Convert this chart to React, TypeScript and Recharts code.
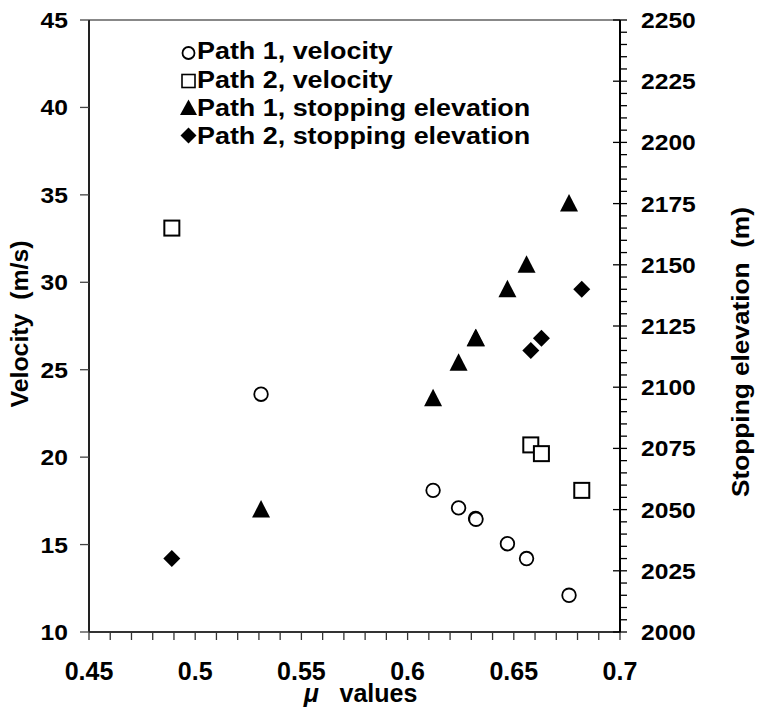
import React from 'react';
import { ScatterChart, Scatter, XAxis, YAxis, ReferenceLine } from 'recharts';

// ---- data ----
const path1Mu = [0.531, 0.612, 0.624, 0.632, 0.6322, 0.647, 0.656, 0.676];
const path1Velocity = [23.6, 18.1, 17.1, 16.5, 16.45, 15.05, 14.2, 12.1];
const path1Elevation = [2050, 2095.5, 2110, 2120, 2120, 2140, 2150, 2175];

const path2Mu = [0.489, 0.658, 0.663, 0.682];
const path2Velocity = [33.1, 20.7, 20.2, 18.1];
const path2Elevation = [2030, 2115, 2120, 2140];

const xTicks = [
  0.45, 0.46, 0.47, 0.48, 0.49, 0.5, 0.51, 0.52, 0.53, 0.54, 0.55, 0.56, 0.57,
  0.58, 0.59, 0.6, 0.61, 0.62, 0.63, 0.64, 0.65, 0.66, 0.67, 0.68, 0.69, 0.7,
];
const xMajorTicks = [0.45, 0.5, 0.55, 0.6, 0.65, 0.7];
const xTickLabels = ['0.45', '0.5', '0.55', '0.6', '0.65', '0.7'];
const velocityTicks = [10, 15, 20, 25, 30, 35, 40, 45];
const elevationTicks = [
  2000, 2005, 2010, 2015, 2020, 2025, 2030, 2035, 2040, 2045, 2050, 2055, 2060,
  2065, 2070, 2075, 2080, 2085, 2090, 2095, 2100, 2105, 2110, 2115, 2120, 2125,
  2130, 2135, 2140, 2145, 2150, 2155, 2160, 2165, 2170, 2175, 2180, 2185, 2190,
  2195, 2200, 2205, 2210, 2215, 2220, 2225, 2230, 2235, 2240, 2245, 2250,
];
const elevationMajorTicks = [2000, 2025, 2050, 2075, 2100, 2125, 2150, 2175, 2200, 2225, 2250];

const legendLabels = [
  'Path 1, velocity',
  'Path 2, velocity',
  'Path 1, stopping elevation',
  'Path 2, stopping elevation',
];

const FONT = "'Liberation Sans', Arial, Helvetica, sans-serif";

const toPoints = (xs: number[], ys: number[]) => xs.map((x, i) => ({ x, y: ys[i] }));
const p1Vel = toPoints(path1Mu, path1Velocity);
const p2Vel = toPoints(path2Mu, path2Velocity);
const p1Elev = toPoints(path1Mu, path1Elevation);
const p2Elev = toPoints(path2Mu, path2Elevation);

// ---- marker shapes ----
const CircleShape = (p: any) => (
  <circle cx={p.cx} cy={p.cy} r={p.r ?? 6.8} fill="#fff" stroke="#000" strokeWidth={1.8} />
);
const SquareShape = (p: any) => (
  <rect x={p.cx - 7.5} y={p.cy - 7.5} width={15} height={15} fill="#fff" stroke="#000" strokeWidth={2} />
);
const TriangleShape = (p: any) => (
  <polygon
    points={`${p.cx},${p.cy - 9.5} ${p.cx - 9},${p.cy + 8} ${p.cx + 9},${p.cy + 8}`}
    fill="#000"
  />
);
const DiamondShape = (p: any) => (
  <polygon
    points={`${p.cx},${p.cy - 8.5} ${p.cx + 8.5},${p.cy} ${p.cx},${p.cy + 8.5} ${p.cx - 8.5},${p.cy}`}
    fill="#000"
  />
);

// ---- ticks ----
const XTick = (props: any) => {
  const { x, y, payload } = props;
  const idx = xMajorTicks.findIndex((m) => Math.abs(m - payload.value) < 1e-6);
  return (
    <g>
      <line x1={x} y1={y} x2={x} y2={y + 8} stroke="#333" strokeWidth={1.3} />
      {idx >= 0 && (
        <text
          x={x}
          y={y + 48}
          textAnchor="middle"
          fontFamily={FONT}
          fontWeight="bold"
          fontSize={25}
          fill="#000"
        >
          {xTickLabels[idx]}
        </text>
      )}
    </g>
  );
};

const LeftTick = (props: any) => {
  const { x, y, payload } = props;
  return (
    <g>
      <line x1={x - 9} y1={y} x2={x} y2={y} stroke="#444" strokeWidth={1.3} />
      <text
        transform={`translate(${x - 21}, ${y + 8}) scale(1.12, 1)`}
        x={0}
        y={0}
        textAnchor="end"
        fontFamily={FONT}
        fontWeight="bold"
        fontSize={22}
        fill="#000"
      >
        {payload.value}
      </text>
    </g>
  );
};

const RightTick = (props: any) => {
  const { x, y, payload } = props;
  const major = elevationMajorTicks.includes(payload.value);
  return (
    <g>
      <line
        x1={major ? x - 7 : x}
        y1={y}
        x2={x + 7}
        y2={y}
        stroke="#000"
        strokeWidth={1.3}
      />
      {major && (
        <text
          transform={`translate(${x + 21}, ${y + 8}) scale(1.12, 1)`}
          x={0}
          y={0}
          textAnchor="start"
          fontFamily={FONT}
          fontWeight="bold"
          fontSize={22}
          fill="#000"
        >
          {payload.value}
        </text>
      )}
    </g>
  );
};

// ---- axis titles ----
const LeftTitle = (props: any) => {
  const vb = props.viewBox || { x: 0, y: 20, width: 89, height: 612 };
  const cx = vb.x + 20;
  const cy = vb.y + vb.height / 2 - 2;
  return (
    <text
      transform={`translate(${cx}, ${cy}) rotate(-90) scale(1.08, 1)`}
      x={0}
      y={0}
      textAnchor="middle"
      dominantBaseline="central"
      fontFamily={FONT}
      fontWeight="bold"
      fontSize={23}
      fill="#000"
      style={{ whiteSpace: 'pre' }}
    >
      {'Velocity  (m/s)'}
    </text>
  );
};

const RightTitle = (props: any) => {
  const vb = props.viewBox || { x: 620, y: 20, width: 137, height: 612 };
  const cx = vb.x + 121;
  const cy = vb.y + vb.height / 2 + 26;
  return (
    <text
      transform={`translate(${cx}, ${cy}) rotate(-90) scale(1.14, 1)`}
      x={0}
      y={0}
      textAnchor="middle"
      dominantBaseline="central"
      fontFamily={FONT}
      fontWeight="bold"
      fontSize={23}
      fill="#000"
      style={{ whiteSpace: 'pre' }}
    >
      {'Stopping elevation  (m)'}
    </text>
  );
};

const BottomTitle = (props: any) => {
  const vb = props.viewBox || { x: 89, y: 632, width: 531, height: 79 };
  const cx = vb.x + vb.width / 2 + 6;
  const y = vb.y + 70;
  return (
    <text
      x={cx}
      y={y}
      textAnchor="middle"
      fontFamily={FONT}
      fontWeight="bold"
      fontSize={25}
      fill="#000"
      style={{ whiteSpace: 'pre' }}
    >
      <tspan fontStyle="italic">μ</tspan>
      <tspan>{'   values'}</tspan>
    </text>
  );
};

// ---- legend ----
const Legend = () => {
  const rowCenters = [50.5, 79.5, 107.5, 135.5];
  const mx = 188.5;
  return (
    <svg
      width={560}
      height={160}
      style={{ position: 'absolute', left: 0, top: 0, overflow: 'visible', pointerEvents: 'none' }}
    >
      <CircleShape cx={mx} cy={rowCenters[0] + 2.5} r={6} />
      <rect x={mx - 6.5} y={rowCenters[1] + 1.5 - 6.5} width={13} height={13} fill="#fff" stroke="#000" strokeWidth={1.6} />
      <polygon
        points={`${mx},${rowCenters[2] - 8} ${mx - 8.5},${rowCenters[2] + 7.5} ${mx + 8.5},${rowCenters[2] + 7.5}`}
        fill="#000"
      />
      <polygon
        points={`${mx},${rowCenters[3] - 8} ${mx + 8},${rowCenters[3]} ${mx},${rowCenters[3] + 8} ${mx - 8},${rowCenters[3]}`}
        fill="#000"
      />
      {legendLabels.map((t, i) => (
        <text
          key={t}
          transform={`translate(197, ${rowCenters[i] + 8.3}) scale(1.17, 1)`}
          x={0}
          y={0}
          fontFamily={FONT}
          fontWeight="bold"
          fontSize={23}
          fill="#000"
        >
          {t}
        </text>
      ))}
    </svg>
  );
};

export default function App() {
  return (
    <div style={{ position: 'absolute', left: 0, top: 0, width: 757, height: 711, background: '#fff' }}>
      <ScatterChart width={757} height={711} margin={{ top: 20, right: 0, bottom: 0, left: 0 }}>
        <XAxis
          type="number"
          dataKey="x"
          domain={[0.45, 0.7]}
          ticks={xTicks}
          interval={0}
          height={79}
          tickSize={0}
          tickMargin={0}
          tickLine={false}
          axisLine={{ stroke: '#333', strokeWidth: 2 }}
          tick={<XTick />}
          allowDataOverflow
          label={{ content: <BottomTitle /> }}
        />
        <YAxis
          yAxisId="left"
          type="number"
          dataKey="y"
          domain={[10, 45]}
          ticks={velocityTicks}
          interval={0}
          width={89}
          tickSize={0}
          tickMargin={0}
          tickLine={false}
          axisLine={{ stroke: '#222', strokeWidth: 2 }}
          tick={<LeftTick />}
          allowDataOverflow
          label={{ content: <LeftTitle /> }}
        />
        <YAxis
          yAxisId="right"
          orientation="right"
          type="number"
          dataKey="y"
          domain={[2000, 2250]}
          ticks={elevationTicks}
          interval={0}
          width={137}
          tickSize={0}
          tickMargin={0}
          tickLine={false}
          axisLine={{ stroke: '#000', strokeWidth: 2 }}
          tick={<RightTick />}
          allowDataOverflow
          label={{ content: <RightTitle /> }}
        />
        <ReferenceLine yAxisId="left" y={45} stroke="#888" strokeWidth={2} />
        <Scatter yAxisId="left" data={p1Vel} shape={<CircleShape />} isAnimationActive={false} />
        <Scatter yAxisId="left" data={p2Vel} shape={<SquareShape />} isAnimationActive={false} />
        <Scatter yAxisId="right" data={p1Elev} shape={<TriangleShape />} isAnimationActive={false} />
        <Scatter yAxisId="right" data={p2Elev} shape={<DiamondShape />} isAnimationActive={false} />
      </ScatterChart>
      <Legend />
    </div>
  );
}
